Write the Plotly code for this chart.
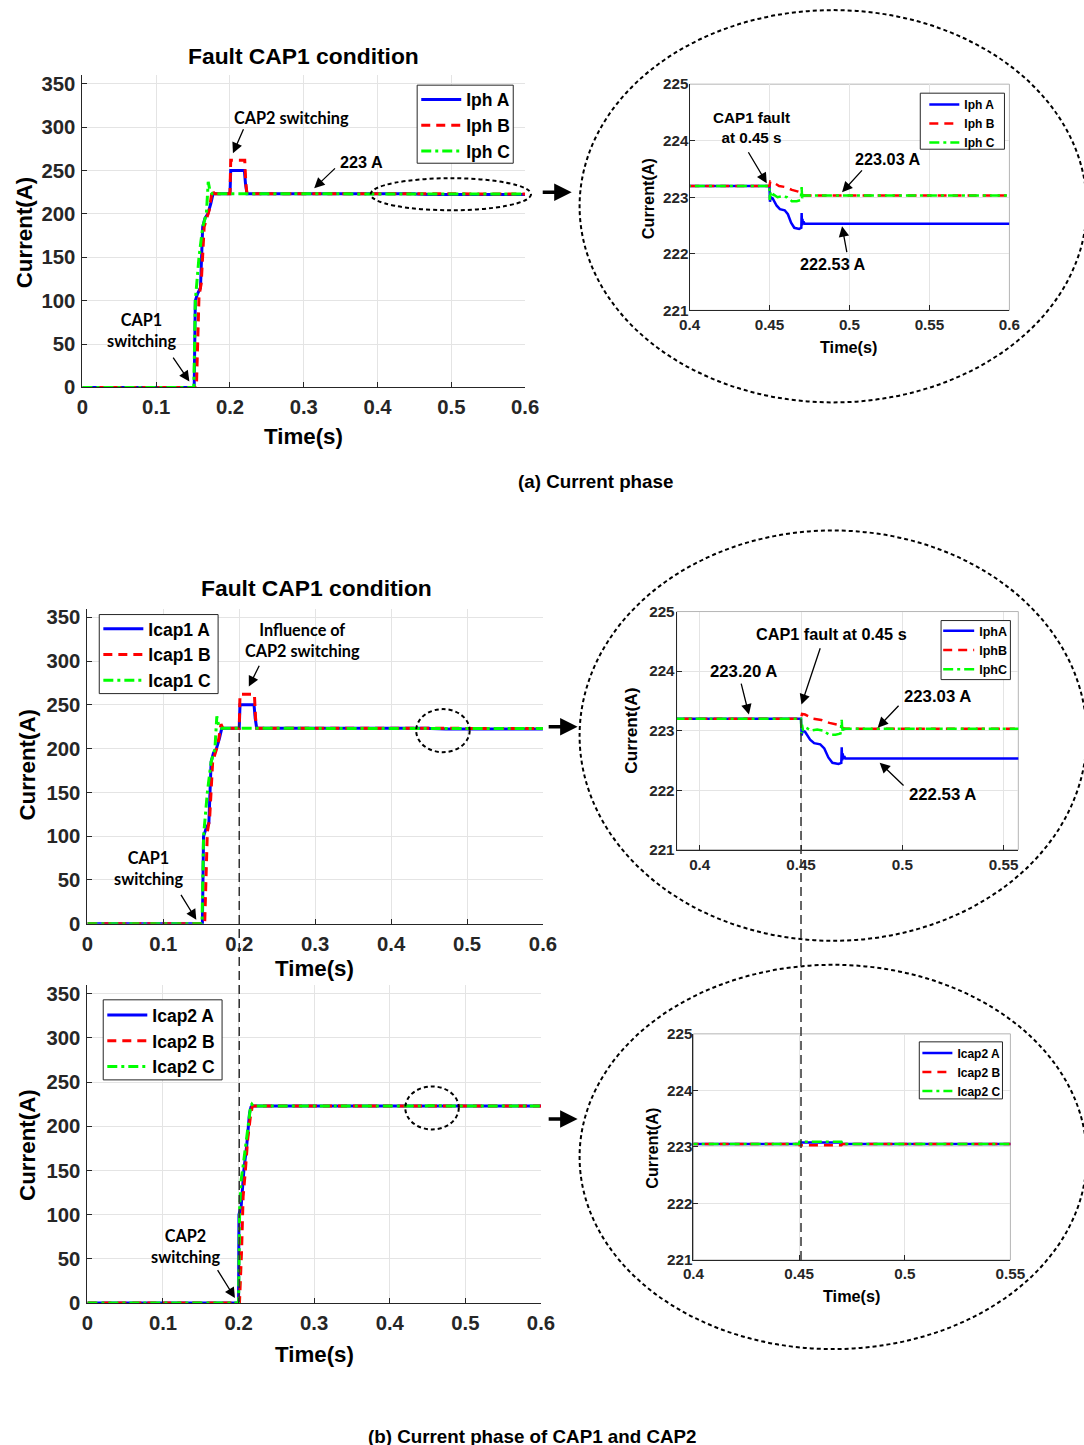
import plotly.graph_objects as go

# The page is photographed at a scale of about 0.9855 and keeps an 8 px body
# margin, so target pixel positions are mapped back to figure pixels here.
S = 0.9855
K = 1 / S
OFF = 8
W, H = 1084, 1450


def px(x):
    return (x / S - OFF) / W


def py(y):
    return 1 - (y / S - OFF) / H


def fs(v):
    return round(v * K, 2)


# ---------------- data ----------------
# Phase currents (also CAP1 currents), full time span 0..0.6 s
t_iph_a = [0, 0.1515, 0.1530, 0.1560, 0.1600, 0.1630, 0.1660, 0.1700, 0.1740, 0.1770,
           0.1800, 0.2000, 0.2010, 0.2195, 0.2210, 0.2230,
           0.4500, 0.4503, 0.4508, 0.4520, 0.4545, 0.4565, 0.4595, 0.4615, 0.4635, 0.4655,
           0.4685, 0.4699, 0.4701, 0.4703, 0.4706, 0.4709, 0.4713, 0.4720, 0.6000]
iph_a = [0, 0, 100, 108, 115, 185, 195, 200, 212, 223.2,
         223.2, 223.2, 250, 250, 235, 223.2,
         223.2, 222.92, 223.0, 222.98, 222.85, 222.79, 222.77, 222.7, 222.55, 222.46,
         222.44, 222.46, 222.72, 222.5, 222.62, 222.52, 222.57, 222.53, 222.53]

t_iph_b = [0, 0.1545, 0.1580, 0.1610, 0.1650, 0.1680, 0.1720, 0.1760, 0.1780, 0.1800,
           0.2000, 0.2010, 0.2200, 0.2215, 0.2230,
           0.4500, 0.4505, 0.4520, 0.4560, 0.4600, 0.4640, 0.4680, 0.4700, 0.4705, 0.4720, 0.6000]
iph_b = [0, 0, 105, 120, 185, 195, 205, 228, 224, 223.2,
         223.2, 262, 262, 235, 223.2,
         223.2, 223.28, 223.27, 223.2, 223.18, 223.13, 223.1, 223.08, 223.04, 223.03, 223.03]

t_iph_c = [0, 0.1510, 0.1530, 0.1580, 0.1630, 0.1680, 0.1705, 0.1730, 0.1760,
           0.4500, 0.4502, 0.4505, 0.4510, 0.4525, 0.4550, 0.4580, 0.4610, 0.4640, 0.4670,
           0.4695, 0.4701, 0.4704, 0.4707, 0.4710, 0.4720, 0.6000]
iph_c = [0, 0, 100, 150, 185, 200, 237, 226, 223.2,
         223.2, 222.95, 223.1, 223.0, 223.05, 223.0, 223.02, 223.0, 222.93, 222.93,
         222.95, 223.18, 222.98, 223.08, 223.02, 223.03, 223.03]

# CAP1 currents (same waveforms as phase currents)
t_icap1_a, icap1_a = t_iph_a, iph_a
t_icap1_b, icap1_b = t_iph_b, iph_b
t_icap1_c, icap1_c = t_iph_c, iph_c

# CAP2 currents
t_icap2_a = [0, 0.2000, 0.2005, 0.2035, 0.2070, 0.2110, 0.2145, 0.2165, 0.2180,
             0.4500, 0.4502, 0.4700, 0.4705, 0.6000]
icap2_a = [0, 0, 100, 110, 150, 180, 215, 222, 223.05,
           223.05, 223.08, 223.08, 223.05, 223.05]
t_icap2_b = [0, 0.2012, 0.2040, 0.2060, 0.2090, 0.2120, 0.2155, 0.2180, 0.2200,
             0.4500, 0.4502, 0.4700, 0.4705, 0.6000]
icap2_b = [0, 0, 60, 120, 150, 185, 210, 222, 223.05,
           223.05, 223.03, 223.03, 223.05, 223.05]
t_icap2_c = [0, 0.2000, 0.2015, 0.2035, 0.2060, 0.2100, 0.2135, 0.2160, 0.2175, 0.2190,
             0.4500, 0.4502, 0.4700, 0.4705, 0.6000]
icap2_c = [0, 0, 110, 140, 155, 185, 210, 223, 225, 223.05,
           223.05, 223.09, 223.09, 223.05, 223.05]

# tick labels
main_x_ticks = [0, 0.1, 0.2, 0.3, 0.4, 0.5, 0.6]
main_x_text = ["0", "0.1", "0.2", "0.3", "0.4", "0.5", "0.6"]
main_y_ticks = [0, 50, 100, 150, 200, 250, 300, 350]
main_y_text = ["0", "50", "100", "150", "200", "250", "300", "350"]
zoom_x_ticks = [0.4, 0.45, 0.5, 0.55, 0.6]
zoom_x_text = ["0.4", "0.45", "0.5", "0.55", "0.6"]
zoom_y_ticks = [221, 222, 223, 224, 225]
zoom_y_text = ["221", "222", "223", "224", "225"]

# ---------------- styling ----------------
ARIAL = "Liberation Sans, Arial, Helvetica, sans-serif"
CAL = "Lato, Carlito, Calibri, sans-serif"
DARK = "#262626"
GRID = "#e4e4e4"
BLUE, RED, GREEN = "#0000ff", "#ff0000", "#00ff00"

fig = go.Figure()


def add_set(ax, tlist, ylist, names, legend, width):
    styles = [(BLUE, "solid"), (RED, "9px,6px"), (GREEN, "10px,4px,3px,4px")]
    for (t, y, nm, (col, dash)) in zip(tlist, ylist, names, styles):
        fig.add_trace(go.Scatter(
            x=t, y=y, name=nm, mode="lines",
            line=dict(color=col, width=width, dash=dash),
            xaxis="x" + ax, yaxis="y" + ax, legend=legend,
        ))


add_set("", [t_iph_a, t_iph_b, t_iph_c], [iph_a, iph_b, iph_c],
        ["Iph A", "Iph B", "Iph C"], "legend", 3)
add_set("2", [t_iph_a, t_iph_b, t_iph_c], [iph_a, iph_b, iph_c],
        ["Iph A", "Iph B", "Iph C"], "legend2", 2.5)
add_set("3", [t_icap1_a, t_icap1_b, t_icap1_c], [icap1_a, icap1_b, icap1_c],
        ["Icap1 A", "Icap1 B", "Icap1 C"], "legend3", 3)
add_set("4", [t_iph_a, t_iph_b, t_iph_c], [iph_a, iph_b, iph_c],
        ["IphA", "IphB", "IphC"], "legend4", 2.5)
add_set("5", [t_icap2_a, t_icap2_b, t_icap2_c], [icap2_a, icap2_b, icap2_c],
        ["Icap2 A", "Icap2 B", "Icap2 C"], "legend5", 3)
add_set("6", [t_icap2_a, t_icap2_b, t_icap2_c], [icap2_a, icap2_b, icap2_c],
        ["Icap2 A", "Icap2 B", "Icap2 C"], "legend6", 2.5)


def xaxis(dom, rng, tv, tt, anchor, size, standoff):
    return dict(domain=[px(dom[0]), px(dom[1])], range=rng, anchor=anchor,
                tickvals=tv, ticktext=tt, showgrid=True, gridcolor=GRID, gridwidth=1,
                zeroline=False, showline=True, linecolor=DARK, linewidth=1,
                ticks="inside", ticklen=5, tickcolor=DARK, ticklabelstandoff=standoff,
                tickfont=dict(family=ARIAL, size=fs(size), color=DARK, weight="bold"))


def yaxis(dom, rng, tv, tt, anchor, size, standoff):
    return dict(domain=[py(dom[1]), py(dom[0])], range=rng, anchor=anchor,
                tickvals=tv, ticktext=tt, showgrid=True, gridcolor=GRID, gridwidth=1,
                zeroline=False, showline=True, linecolor=DARK, linewidth=1,
                ticks="inside", ticklen=5, tickcolor=DARK, ticklabelstandoff=standoff,
                tickfont=dict(family=ARIAL, size=fs(size), color=DARK, weight="bold"))


layout = dict(
    width=W, height=H, margin=dict(l=0, r=0, t=0, b=0),
    paper_bgcolor="white", plot_bgcolor="white",
    xaxis=xaxis((80, 527), [0, 0.6], main_x_ticks, main_x_text, "y", 20, 1),
    yaxis=yaxis((74, 386), [0, 360], main_y_ticks, main_y_text, "x", 20, 2),
    xaxis2=xaxis((693, 1016), [0.4, 0.6], zoom_x_ticks, zoom_x_text, "y2", 15, 0),
    yaxis2=yaxis((83, 309), [221, 225], zoom_y_ticks, zoom_y_text, "x2", 15, -3),
    xaxis3=xaxis((85, 545), [0, 0.6], main_x_ticks, main_x_text, "y3", 20, 2),
    yaxis3=yaxis((607, 922), [0, 360], main_y_ticks, main_y_text, "x3", 20, 2),
    xaxis4=xaxis((680, 1025), [0.3886, 0.5573], zoom_x_ticks[:4], zoom_x_text[:4], "y4", 15, 1),
    yaxis4=yaxis((610, 848), [221, 225], zoom_y_ticks, zoom_y_text, "x4", 15, -2),
    xaxis5=xaxis((85, 543), [0, 0.6], main_x_ticks, main_x_text, "y5", 20, 2),
    yaxis5=yaxis((983, 1301), [0, 360], main_y_ticks, main_y_text, "x5", 20, 2),
    xaxis6=xaxis((697, 1017), [0.4, 0.55], zoom_x_ticks[:4], zoom_x_text[:4], "y6", 15, 0),
    yaxis6=yaxis((1032, 1258), [221, 225], zoom_y_ticks, zoom_y_text, "x6", 15, -3),
)


def legend(sample_left, first_center, size, iw):
    h = max(size * 1.3, 16) + 3
    top = first_center - (5 + h / 2) * S
    return dict(x=px(sample_left - 5 * S), y=py(top), xanchor="left", yanchor="top",
                bgcolor="rgba(0,0,0,0)", borderwidth=0,
                font=dict(family=ARIAL, size=size, color="black", weight="bold"),
                itemwidth=iw, tracegroupgap=0, traceorder="normal")


layout["legend"] = legend(422, 98, 17.5, 40)
layout["legend2"] = legend(935, 103, 12, 30)
layout["legend3"] = legend(101, 627, 17.5, 40)
layout["legend4"] = legend(949, 629, 12.5, 31)
layout["legend5"] = legend(105, 1013, 17.5, 40)
layout["legend6"] = legend(928, 1051, 12, 30)
layout["showlegend"] = True
fig.update_layout(**layout)

# ---------------- shapes ----------------
shapes = []


def ellipse(cx, cy, rx, ry, width=2):
    shapes.append(dict(type="circle", xref="paper", yref="paper",
                       x0=px(cx - rx), x1=px(cx + rx), y0=py(cy + ry), y1=py(cy - ry),
                       line=dict(color="black", width=width, dash="4px,3px")))


ellipse(838, 205, 256, 196)
ellipse(838, 734, 256, 205)
ellipse(838, 1155, 256, 192)
ellipse(452, 193, 81, 16)
ellipse(444, 729, 27, 21.5)
ellipse(433, 1106, 27, 21.5)

# light box for zoomed plots
for a in ["2", "4", "6"]:
    shapes.append(dict(type="rect", xref="x%s domain" % a, yref="y%s domain" % a,
                       x0=0, x1=1, y0=0, y1=1, layer="below",
                       line=dict(color="#b5b5b5", width=1)))

# legend frames
for (x0, x1, y0, y1) in [(418, 515, 84, 162), (926, 1011, 92, 148), (97, 217, 613, 692),
                         (947, 1017, 619, 678), (101, 221, 998, 1078), (925, 1009, 1040, 1097)]:
    shapes.append(dict(type="rect", xref="paper", yref="paper",
                       x0=px(x0), x1=px(x1), y0=py(y1), y1=py(y0), layer="above",
                       fillcolor="white", line=dict(color=DARK, width=1)))

# vertical dashed markers
shapes.append(dict(type="line", xref="x3", yref="paper", x0=0.2, x1=0.2,
                   y0=py(1300), y1=py(722), line=dict(color="#333333", width=1.5, dash="9px,5px")))
shapes.append(dict(type="line", xref="x4", yref="paper", x0=0.45, x1=0.45,
                   y0=py(1258), y1=py(717), line=dict(color="#333333", width=1.5, dash="9px,5px")))
fig.update_layout(shapes=shapes)

# ---------------- annotations ----------------
ann = []


def text(x, y, s, size, family=ARIAL, angle=0):
    ann.append(dict(x=px(x), y=py(y), xref="paper", yref="paper", text=s, showarrow=False,
                    xanchor="center", yanchor="middle", textangle=angle,
                    font=dict(family=family, size=fs(size), color="black", weight="bold")))


def arrow(tx, ty, hx, hy, w=1.3, size=1.6):
    ann.append(dict(x=px(hx), y=py(hy), xref="paper", yref="paper",
                    ax=(tx - hx) * K, ay=(ty - hy) * K,
                    axref="pixel", ayref="pixel", text="", showarrow=True,
                    arrowhead=2, arrowsize=size, arrowwidth=w, arrowcolor="black"))


# titles / captions
text(303, 55, "Fault CAP1 condition", 22.5)
text(316, 586, "Fault CAP1 condition", 22.5)
text(598, 480, "(a) Current phase", 18.5)
text(534, 1434, "(b) Current phase of CAP1 and CAP2", 18.5)

# axis titles
text(21, 231, "Current(A)", 22, angle=-90)
text(303, 435, "Time(s)", 22)
text(651, 197, "Current(A)", 16, angle=-90)
text(854, 346, "Time(s)", 16)
text(25, 763, "Current(A)", 22, angle=-90)
text(314, 967, "Time(s)", 22)
text(634, 729, "Current(A)", 17, angle=-90)
text(25, 1143, "Current(A)", 22, angle=-90)
text(314, 1352, "Time(s)", 22)
text(655, 1146, "Current(A)", 16, angle=-90)
text(857, 1294, "Time(s)", 16)

# panel 1 notes
text(291, 116, "CAP2 switching", 16, CAL)
arrow(243, 127, 232, 152)
text(362, 161, "223 A", 16)
arrow(336, 166, 314, 187)
text(140, 329, "CAP1<br>switching", 16, CAL)
arrow(171, 355, 188, 380)

# panel 2 notes
text(756, 126, "CAP1 fault<br>at 0.45 s", 15)
arrow(752, 150, 771, 182)
text(893, 158, "223.03 A", 16)
arrow(868, 168, 847, 191)
text(838, 263, "222.53 A", 16)
arrow(852, 252, 847, 225)

# panel 3 notes
text(302, 638, "Influence of<br>CAP2 switching", 16, CAL)
arrow(259, 663, 248, 685)
text(147, 866, "CAP1<br>switching", 16, CAL)
arrow(179, 892, 195, 918)

# panel 4 notes
text(836, 632, "CAP1 fault at 0.45 s", 16)
arrow(825, 646, 806, 703)
text(747, 670, "223.20 A", 16.5)
arrow(745, 681, 753, 713)
text(943, 695, "223.03 A", 16.5)
arrow(905, 703, 883, 726)
text(948, 793, "222.53 A", 16.5)
arrow(910, 785, 885, 761)

# panel 5 notes
text(185, 1244, "CAP2<br>switching", 16, CAL)
arrow(216, 1267, 234, 1296)

# bold right-pointing arrows linking to zoom views
arrow(544, 191, 574, 191, w=3.5, size=1)
arrow(550, 725, 580, 725, w=3.5, size=1)
arrow(550, 1117, 580, 1117, w=3.5, size=1)

fig.update_layout(annotations=ann)

fig.write_html("out.html", config={"displayModeBar": False})
